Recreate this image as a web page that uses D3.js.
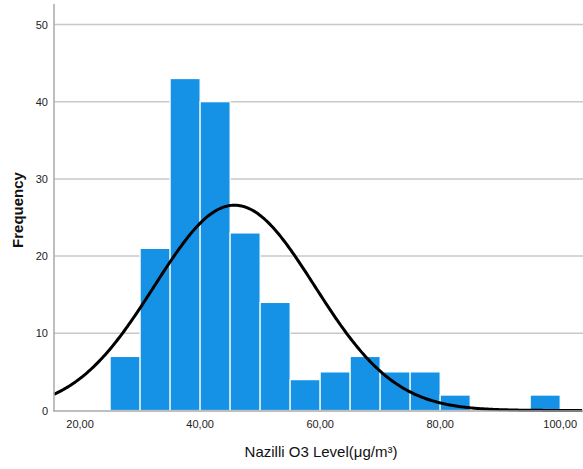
<!DOCTYPE html>
<html>
<head>
<meta charset="utf-8">
<script src="https://cdn.jsdelivr.net/npm/d3@7"></script>
<style>
  body { margin: 0; background: #fff; }
  text { font-family: "Liberation Sans", Arial, sans-serif; }
</style>
</head>
<body>
<script>
// bins of 5 ug/m3 : start of each bin and its count
var binStarts = [25, 30, 35, 40, 45, 50, 55, 60, 65, 70, 75, 80, 95];
var counts = [7, 21, 43, 40, 23, 14, 4, 5, 7, 5, 5, 2, 2];
var binWidth = 5;
var xTicks = [20, 40, 60, 80, 100];
var yTicks = [0, 10, 20, 30, 40, 50];
// normal curve parameters
var mean = 45.73, sd = 13.35, nObs = 178;

var W = 583, H = 469;
var svg = d3.select("body").append("svg").attr("width", W).attr("height", H);

var x = d3.scaleLinear().domain([15.65, 103.8]).range([54, 583]);
var y = d3.scaleLinear().domain([0, 50]).range([410.5, 24.5]);

// gridlines
svg.append("g").selectAll("line")
  .data(yTicks.filter(function(d) { return d > 0; }))
  .enter().append("line")
  .attr("x1", 54).attr("x2", 583)
  .attr("y1", function(d) { return y(d); })
  .attr("y2", function(d) { return y(d); })
  .attr("stroke", "#c8c8c8")
  .attr("stroke-width", 1.5);

// bars
svg.append("g").selectAll("rect")
  .data(counts)
  .enter().append("rect")
  .attr("x", function(d, i) { return x(binStarts[i]); })
  .attr("width", function(d, i) { return x(binStarts[i] + binWidth) - x(binStarts[i]); })
  .attr("y", function(d) { return y(d); })
  .attr("height", function(d) { return y(0) - y(d); })
  .style("fill", "#1591e6")
  .attr("stroke", "#ffffff")
  .attr("stroke-width", 1.2);

// normal curve
var curvePts = d3.range(x.domain()[0], x.domain()[1] + 0.01, 0.25).map(function(v) {
  var z = (v - mean) / sd;
  return [v, nObs * binWidth / (sd * Math.sqrt(2 * Math.PI)) * Math.exp(-0.5 * z * z)];
});
svg.append("path")
  .datum(curvePts)
  .attr("d", d3.line().x(function(d) { return x(d[0]); }).y(function(d) { return y(d[1]); }))
  .attr("fill", "none")
  .attr("stroke", "#000")
  .attr("stroke-width", 3);

// axes lines
svg.append("line").attr("x1", 54).attr("x2", 54).attr("y1", 4).attr("y2", 411)
  .attr("stroke", "#a8a8a8").attr("stroke-width", 1.5);
svg.append("line").attr("x1", 53).attr("x2", 583).attr("y1", 411).attr("y2", 411)
  .attr("stroke", "#a8a8a8").attr("stroke-width", 1.5);

// y tick labels
svg.append("g").selectAll("text")
  .data(yTicks)
  .enter().append("text")
  .attr("x", 48)
  .attr("y", function(d) { return y(d) + 4; })
  .attr("text-anchor", "end")
  .style("font-size", "11px")
  .style("fill", "#222")
  .text(function(d) { return d; });

// x tick labels
svg.append("g").selectAll("text")
  .data(xTicks)
  .enter().append("text")
  .attr("x", function(d) { return x(d); })
  .attr("y", 428)
  .attr("text-anchor", "middle")
  .style("font-size", "11px")
  .style("fill", "#222")
  .text(function(d) { return d3.format(".2f")(d).replace(".", ","); });

// axis titles
svg.append("text")
  .attr("x", 321).attr("y", 457)
  .attr("text-anchor", "middle")
  .style("font-size", "15px")
  .style("fill", "#111")
  .text("Nazilli O3 Level(μg/m³)");

svg.append("text")
  .attr("transform", "translate(23,210) rotate(-90)")
  .attr("text-anchor", "middle")
  .style("font-size", "15px")
  .style("font-weight", "bold")
  .style("fill", "#111")
  .text("Frequency");
</script>
</body>
</html>
